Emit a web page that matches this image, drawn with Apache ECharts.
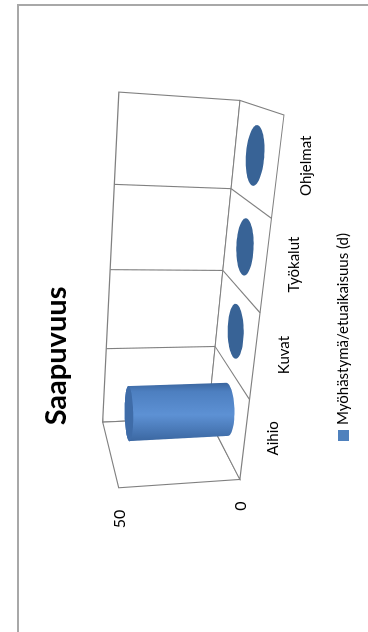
<!DOCTYPE html>
<html>
<head>
<meta charset="utf-8">
<script src="https://cdn.jsdelivr.net/npm/echarts@6/dist/echarts.min.js"></script>
<style>
  html, body { margin: 0; padding: 0; width: 368px; height: 632px; overflow: hidden; background: #fff; }
  /* The chart is laid out landscape and turned a quarter turn counter-clockwise. */
  #chart { position: absolute; left: 0; top: 0; width: 632px; height: 368px;
           transform-origin: 0 0; transform: translateY(632px) rotate(-90deg); }
</style>
</head>
<body>
<div id="chart"></div>
<script>
// ---- data ----
const categories = ['Aihio', 'Kuvat', 'Työkalut', 'Ohjelmat'];
const values = [43, 0, 0, 0];
const valueTicks = [0, 50];
const seriesName = 'Myöhästymä/etuaikaisuus (d)';

// ---- 3D box view ----
// Anchor points of the perspective box: [u, v, w, screenX, screenY]
// u runs along the categories, v along the value axis, w from back wall (0) to front (1).
const boxAnchors = [
  [0, 0, 0, 212, 210], [0.25, 0, 0, 285, 215], [0.5, 0, 0, 362, 222], [0.75, 0, 0, 444, 230], [1, 0, 0, 532, 239],
  [0, 1, 0, 212, 103], [0.25, 1, 0, 284, 107], [0.5, 1, 0, 362, 110], [0.75, 1, 0, 447, 115], [1, 1, 0, 540, 118],
  [0, 0, 1, 154, 239], [0.25, 0, 1, 234, 248], [0.5, 0, 1, 319, 260], [0.75, 0, 1, 415, 272], [1, 0, 1, 515, 287],
  [0, 1, 1, 142, 118]
];

// Least-squares fit of a 3x4 projective camera matrix to the anchors.
function fitProjection(anchors) {
  const ox = 340, oy = 200, sc = 200;
  const N = Array.from({ length: 11 }, () => new Array(11).fill(0));
  const r = new Array(11).fill(0);
  anchors.forEach(([u, v, w, X, Y]) => {
    const x = (X - ox) / sc, y = (Y - oy) / sc;
    const rows = [
      [u, v, w, 1, 0, 0, 0, 0, -x * u, -x * v, -x * w, x],
      [0, 0, 0, 0, u, v, w, 1, -y * u, -y * v, -y * w, y]
    ];
    rows.forEach(row => {
      for (let i = 0; i < 11; i++) {
        r[i] += row[i] * row[11];
        for (let j = 0; j < 11; j++) N[i][j] += row[i] * row[j];
      }
    });
  });
  for (let c = 0; c < 11; c++) {
    let p = c;
    for (let k = c + 1; k < 11; k++) if (Math.abs(N[k][c]) > Math.abs(N[p][c])) p = k;
    [N[c], N[p]] = [N[p], N[c]];
    [r[c], r[p]] = [r[p], r[c]];
    for (let k = c + 1; k < 11; k++) {
      const f = N[k][c] / N[c][c];
      for (let j = c; j < 11; j++) N[k][j] -= f * N[c][j];
      r[k] -= f * r[c];
    }
  }
  const m = new Array(11).fill(0);
  for (let c = 10; c >= 0; c--) {
    let s = r[c];
    for (let j = c + 1; j < 11; j++) s -= N[c][j] * m[j];
    m[c] = s / N[c][c];
  }
  return function (u, v, w) {
    const d = m[8] * u + m[9] * v + m[10] * w + 1;
    return [
      ox + sc * (m[0] * u + m[1] * v + m[2] * w + m[3]) / d,
      oy + sc * (m[4] * u + m[5] * v + m[6] * w + m[7]) / d
    ];
  };
}
const project = fitProjection(boxAnchors);

const FONT = 'Lato, "Open Sans", sans-serif';
const LINE = '#808080';
const TEXT = '#000';

// Convert a pixel position of the flat grid into box coordinates (u, v).
function toUV(cs, px, py) {
  return [(px - cs.x) / cs.width, (cs.y + cs.height - py) / cs.height];
}

function poly(points, style) {
  return { type: 'polygon', shape: { points }, style };
}
function line(a, b) {
  return { type: 'line', shape: { x1: a[0], y1: a[1], x2: b[0], y2: b[1] },
           style: { stroke: LINE, lineWidth: 1.1 } };
}

// Walls, floor, gridlines and axis labels
function renderFrame(params, api) {
  const cs = params.coordSys;
  const band = api.size([1, 0])[0];
  const bounds = [];
  for (let k = 0; k <= categories.length; k++) bounds.push((cs.x + k * band - cs.x) / cs.width);
  const u0 = bounds[0], u1 = bounds[bounds.length - 1];
  const wallStyle = { fill: '#fff', stroke: LINE, lineWidth: 1.1 };
  const children = [
    poly([project(u0, 0, 0), project(u1, 0, 0), project(u1, 1, 0), project(u0, 1, 0)], wallStyle),
    poly([project(u0, 0, 0), project(u0, 0, 1), project(u0, 1, 1), project(u0, 1, 0)], wallStyle),
    poly([project(u0, 0, 0), project(u1, 0, 0), project(u1, 0, 1), project(u0, 0, 1)], wallStyle)
  ];
  for (let k = 1; k < bounds.length - 1; k++) {
    children.push(line(project(bounds[k], 0, 0), project(bounds[k], 1, 0)));
    children.push(line(project(bounds[k], 0, 0), project(bounds[k], 0, 1)));
  }
  valueTicks.forEach(t => {
    const v = toUV(cs, 0, api.coord([0, t])[1])[1];
    const p = project(u0, v, 1);
    children.push({ type: 'text', style: { text: String(t), x: p[0] - 22, y: p[1] + 1,
      align: 'right', verticalAlign: 'middle', fontFamily: FONT, fontSize: 16, fill: TEXT } });
  });
  categories.forEach((c, i) => {
    const u = toUV(cs, api.coord([i, 0])[0], 0)[0];
    const p = project(u, 0, 1);
    children.push({ type: 'text', style: { text: c, x: p[0] + 2, y: p[1] + 29,
      align: 'center', verticalAlign: 'middle', fontFamily: FONT, fontSize: 15, fill: TEXT } });
  });
  return { type: 'group', children };
}

// Convex hull (monotone chain) of projected points
function hull(pts) {
  const p = pts.slice().sort((a, b) => a[0] - b[0] || a[1] - b[1]);
  const cross = (o, a, b) => (a[0] - o[0]) * (b[1] - o[1]) - (a[1] - o[1]) * (b[0] - o[0]);
  const lower = [], upper = [];
  for (const q of p) { while (lower.length >= 2 && cross(lower[lower.length - 2], lower[lower.length - 1], q) <= 0) lower.pop(); lower.push(q); }
  for (let i = p.length - 1; i >= 0; i--) { const q = p[i]; while (upper.length >= 2 && cross(upper[upper.length - 2], upper[upper.length - 1], q) <= 0) upper.pop(); upper.push(q); }
  upper.pop(); lower.pop();
  return lower.concat(upper);
}

// One cylinder per category, standing in the middle of the floor depth
function renderCylinder(params, api) {
  const cs = params.coordSys;
  const i = api.value(0), val = api.value(1);
  const base = api.coord([i, 0]);
  const topPx = api.coord([i, val]);
  const band = api.size([1, 0])[0];
  const uc = toUV(cs, base[0], base[1])[0];
  const vt = toUV(cs, topPx[0], topPx[1])[1];
  const ru = (band / cs.width) * 0.315, rw = 0.21, wc = 0.5;
  const n = 64, bottom = [], top = [];
  for (let k = 0; k < n; k++) {
    const t = (k / n) * Math.PI * 2;
    const u = uc + ru * Math.cos(t), w = wc + rw * Math.sin(t);
    bottom.push(project(u, 0, w));
    top.push(project(u, vt, w));
  }
  const children = [];
  if (val > 0) {
    children.push(poly(hull(bottom.concat(top)), {
      fill: { type: 'linear', x: 0, y: 0, x2: 1, y2: 0, colorStops: [
        { offset: 0, color: '#3b67a1' }, { offset: 0.45, color: '#5d91d4' },
        { offset: 0.85, color: '#4d7fc0' }, { offset: 1, color: '#3a659e' }] }
    }));
    children.push(poly(top, { fill: '#3f6ca8' }));
  } else {
    children.push(poly(top, { fill: '#386396' }));
  }
  return { type: 'group', children };
}

const chart = echarts.init(document.getElementById('chart'));
chart.setOption({
  animation: false,
  backgroundColor: '#fff',
  title: {
    text: 'Saapuvuus', left: 276, top: 42, textAlign: 'center', padding: 0,
    textStyle: { fontFamily: FONT, fontSize: 29, fontWeight: 'bold', color: '#000' }
  },
  legend: {
    data: [seriesName], left: 191, top: 336, padding: 0, icon: 'rect',
    itemWidth: 11, itemHeight: 11, itemGap: 0,
    textStyle: { fontFamily: FONT, fontSize: 15, color: TEXT }
  },
  grid: { left: 212, top: 103, width: 328, height: 107 },
  xAxis: { type: 'category', data: categories, show: false },
  yAxis: { type: 'value', min: 0, max: 50, interval: 50, show: false },
  graphic: [{
    type: 'rect', silent: true,
    shape: { x: -10, y: 18, width: 637, height: 400 },
    style: { fill: 'none', stroke: '#a8a8a8', lineWidth: 2 }
  }],
  series: [
    { type: 'custom', name: 'frame', coordinateSystem: 'cartesian2d', clip: false, silent: true,
      data: [[0, 0]], renderItem: renderFrame },
    { type: 'custom', name: seriesName, coordinateSystem: 'cartesian2d', clip: false,
      itemStyle: { color: '#4f81bd' },
      data: values.map((v, i) => [i, v]), encode: { x: 0, y: 1 }, renderItem: renderCylinder }
  ]
});
</script>
</body>
</html>
